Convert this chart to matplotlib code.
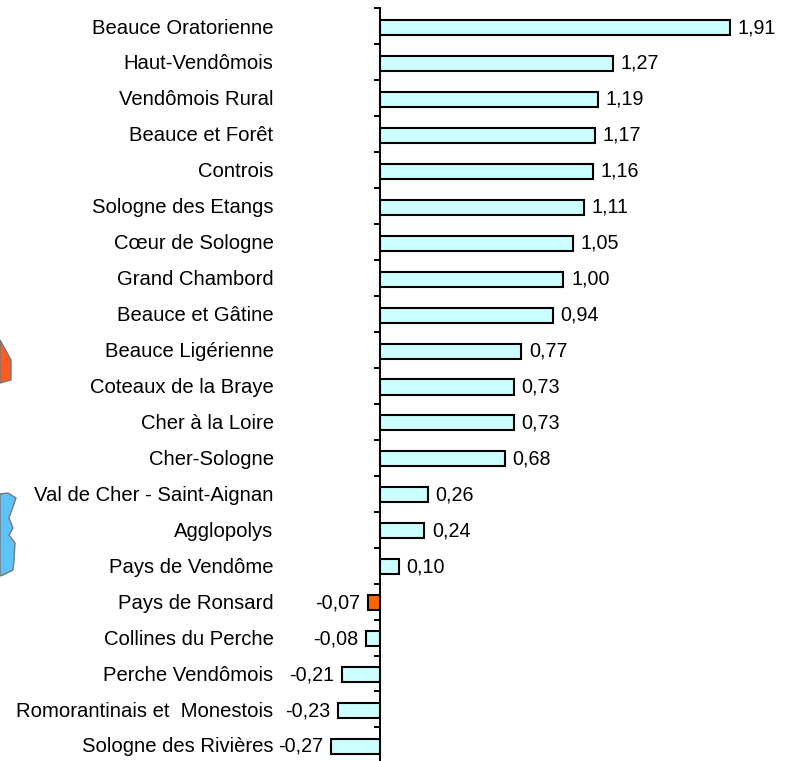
import matplotlib
matplotlib.use("Agg")
from matplotlib import pyplot as plt
from matplotlib.patches import Polygon
from matplotlib.transforms import ScaledTranslation

categories = [
    "Beauce Oratorienne", "Haut-Vendômois", "Vendômois Rural", "Beauce et Forêt",
    "Controis", "Sologne des Etangs", "Cœur de Sologne", "Grand Chambord",
    "Beauce et Gâtine", "Beauce Ligérienne", "Coteaux de la Braye", "Cher à la Loire",
    "Cher-Sologne", "Val de Cher - Saint-Aignan", "Agglopolys", "Pays de Vendôme",
    "Pays de Ronsard", "Collines du Perche", "Perche Vendômois",
    "Romorantinais et  Monestois", "Sologne des Rivières",
]
values = [1.91, 1.27, 1.19, 1.17, 1.16, 1.11, 1.05, 1.00, 0.94, 0.77, 0.73, 0.73,
          0.68, 0.26, 0.24, 0.10, -0.07, -0.08, -0.21, -0.23, -0.27]
highlight = "Pays de Ronsard"

W, H = 790, 761
x0_px, px_per_unit = 380.5, 183.0
y0_px, px_per_cat = 27.5, 35.95

plt.rcParams["font.family"] = ["Liberation Sans", "DejaVu Sans"]
fig = plt.figure(figsize=(W / 100, H / 100), dpi=100)
ax = fig.add_axes([0, 0, 1, 1])
ax.set_xlim(-x0_px / px_per_unit, (W - x0_px) / px_per_unit)
ax.set_ylim((H - y0_px) / px_per_cat, -y0_px / px_per_cat)

colors = ["#ff6600" if c == highlight else "#ccffff" for c in categories]
positions = list(range(len(categories)))
bars = ax.barh(positions, values, height=0.42, color=colors, edgecolor="black", linewidth=1.5)

labels = [f"{v:.2f}".replace(".", ",") for v in values]
ax.bar_label(bars, labels=labels, padding=5.5, fontsize=14.2, color="black")

# category axis sits on zero, only that spine is kept
for name in ["top", "right", "bottom"]:
    ax.spines[name].set_visible(False)
ax.spines["left"].set_position(("data", 0))
ax.spines["left"].set_linewidth(1.4)
ax.spines["left"].set_bounds(-0.53, len(categories))
ax.xaxis.set_visible(False)
ax.set_yticks(positions, categories, fontsize=14.6, color="black")
ax.tick_params(axis="y", which="major", length=0, pad=77)
ax.set_yticks([p - 0.53 for p in positions], minor=True)
ax.tick_params(axis="y", which="minor", length=4, width=1.4)

# category labels sit a little above the bar centres
nudge = ScaledTranslation(0, 1.5 / 100, fig.dpi_scale_trans)
for lab in ax.get_yticklabels():
    lab.set_transform(lab.get_transform() + nudge)

# bits of the map cut off at the left edge (pixel coordinates)
orange = [(0, 340), (11, 360), (11, 380), (0, 383)]
blue = [(0, 494), (8, 493), (16, 498), (9, 518), (13, 528), (9, 535), (15, 543),
        (14, 560), (13, 570), (3, 575), (0, 576)]
for pts, col in [(orange, "#ff5a1f"), (blue, "#5cc4fb")]:
    fig.add_artist(Polygon([(x / W, 1 - y / H) for x, y in pts], closed=True,
                           transform=fig.transFigure, facecolor=col,
                           edgecolor="#777777", linewidth=1.0))

fig.savefig("out.png", dpi=100)
